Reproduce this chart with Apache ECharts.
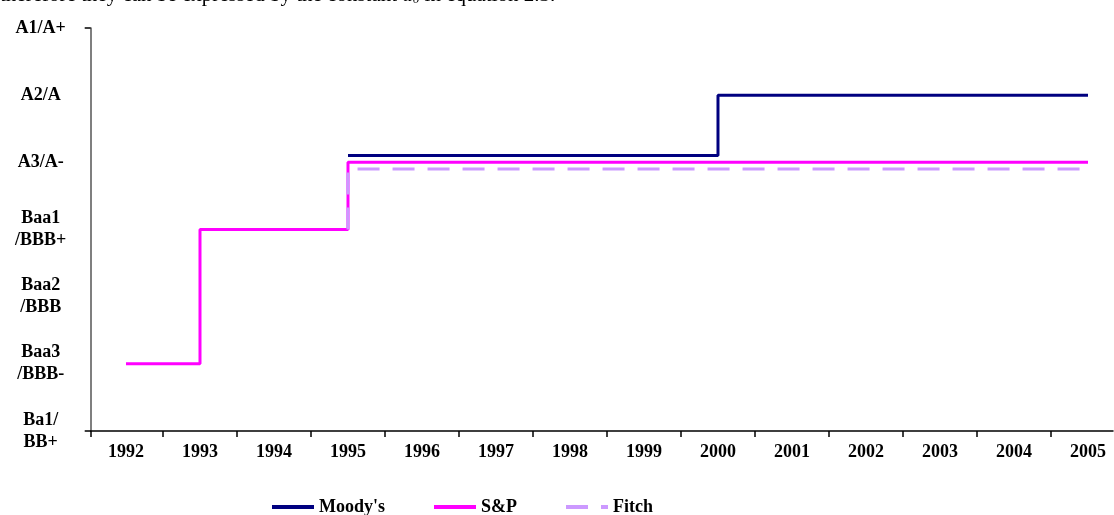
<!DOCTYPE html>
<html>
<head>
<meta charset="utf-8">
<script src="https://cdn.jsdelivr.net/npm/echarts@6/dist/echarts.min.js"></script>
<style>
  html, body { margin: 0; padding: 0; background: #fff; }
  #chart { width: 1114px; height: 515px; }
</style>
</head>
<body>
<div id="chart"></div>
<script>
// x categories (years) and rating scale (0 = Ba1/BB+ ... 6 = A1/A+)
const years = [1992, 1993, 1994, 1995, 1996, 1997, 1998, 1999, 2000, 2001, 2002, 2003, 2004, 2005];
const ratingLabels = ["Ba1/\nBB+", "Baa3\n/BBB-", "Baa2\n/BBB", "Baa1\n/BBB+", "A3/A-", "A2/A", "A1/A+"];

// [year, rating] — drawn as step lines
const moodysData = [[1995, 4.1], [2000, 5], [2005, 5]];
const spData = [[1992, 1], [1993, 3], [1995, 4], [2005, 4]];
const fitchData = [[1995, 3], [2005, 3.9]];

const FONT = "Liberation Serif";
const chart = echarts.init(document.getElementById("chart"));

const xMin = 1991.523;
const xMax = 2005.338;
const tickValues = [xMin].concat(years.slice(0, -1).map(y => y + 0.5));

chart.setOption({
  animation: false,
  backgroundColor: "#fff",
  graphic: [
    {
      type: "text",
      left: 0,
      top: -15,
      style: {
        text: "therefore they can be expressed by the constant {i|a}{s|0} in equation 2.3.",
        fontFamily: FONT,
        fontSize: 21,
        fill: "#000",
        rich: {
          i: { fontFamily: FONT, fontSize: 21, fontStyle: "italic" },
          s: { fontFamily: FONT, fontSize: 13, fontStyle: "italic", verticalAlign: "bottom", padding: [9, 0, 0, 0] }
        }
      }
    }
  ],
  grid: {
    left: 90.7,
    right: 1,
    top: 28,
    bottom: 84,
    containLabel: false
  },
  legend: {
    left: 265,
    top: 493,
    itemWidth: 42,
    itemHeight: 14,
    itemGap: 47,
    itemStyle: { opacity: 0 },
    lineStyle: { width: 4 },
    textStyle: {
      fontFamily: FONT,
      fontWeight: "bold",
      fontSize: 18,
      color: "#000"
    },
    data: ["Moody's", "S&P", "Fitch"]
  },
  xAxis: {
    type: "value",
    min: xMin,
    max: xMax,
    axisLine: { show: true, lineStyle: { color: "#000", width: 1.5 } },
    axisTick: {
      show: true,
      customValues: tickValues,
      length: 6,
      lineStyle: { color: "#000", width: 1.5 }
    },
    axisLabel: {
      customValues: years,
      formatter: v => String(Math.round(v)),
      margin: 12,
      fontFamily: FONT,
      fontWeight: "bold",
      fontSize: 18,
      color: "#000"
    },
    splitLine: { show: false }
  },
  yAxis: {
    type: "value",
    min: 0,
    max: 6,
    interval: 1,
    axisLine: { show: true, lineStyle: { color: "#555", width: 1.5 } },
    axisTick: {
      show: true,
      customValues: [0, 6],
      length: 6,
      lineStyle: { color: "#000", width: 1.5 }
    },
    axisLabel: {
      formatter: v => ratingLabels[v],
      align: "center",
      margin: 50,
      lineHeight: 22,
      fontFamily: FONT,
      fontWeight: "bold",
      fontSize: 18,
      color: "#000"
    },
    splitLine: { show: false }
  },
  series: [
    {
      name: "Moody's",
      type: "line",
      step: "end",
      symbol: "none",
      lineStyle: { color: "#000080", width: 3 },
      itemStyle: { color: "#000080" },
      data: moodysData
    },
    {
      name: "S&P",
      type: "line",
      step: "end",
      symbol: "none",
      lineStyle: { color: "#ff00ff", width: 3 },
      itemStyle: { color: "#ff00ff" },
      data: spData
    },
    {
      name: "Fitch",
      type: "line",
      step: "start",
      symbol: "none",
      lineStyle: { color: "#cc99ff", width: 3, type: [22, 13] },
      itemStyle: { color: "#cc99ff" },
      data: fitchData
    }
  ]
});
</script>
</body>
</html>
